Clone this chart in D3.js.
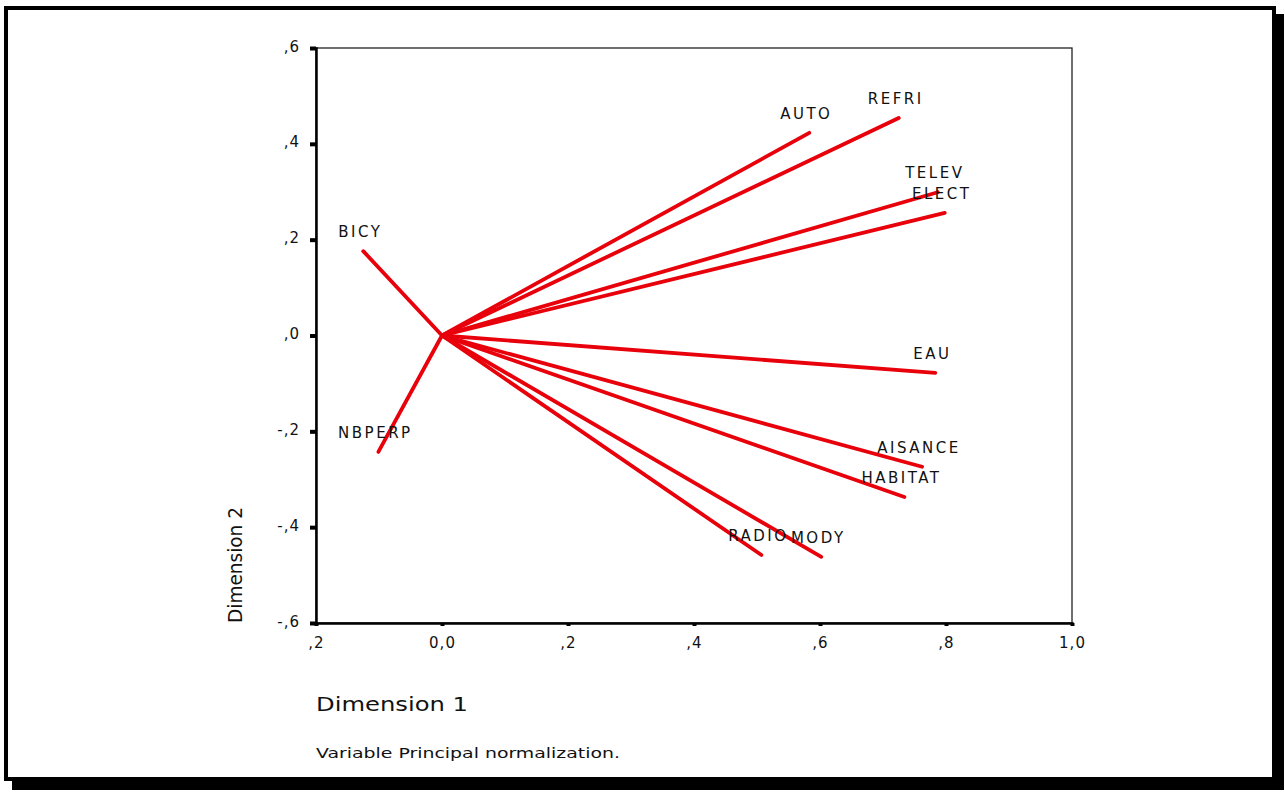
<!DOCTYPE html>
<html><head><meta charset="utf-8">
<script src="https://cdn.jsdelivr.net/npm/d3@7/dist/d3.min.js"></script>
<style>body{margin:0;background:#fff;}svg{display:block;}text{font-family:"DejaVu Sans",Verdana,sans-serif;fill:#111;}</style>
</head><body>
<script>
const variables = ["AUTO","REFRI","TELEV","ELECT","EAU","AISANCE","HABITAT","RADIO","MODY","BICY","NBPERP"];
const dim1 = [0.583, 0.725, 0.787, 0.798, 0.783, 0.762, 0.734, 0.507, 0.602, -0.125, -0.101];
const dim2 = [0.423, 0.454, 0.299, 0.256, -0.078, -0.274, -0.337, -0.458, -0.462, 0.176, -0.243];
const xTickValues = [-0.2, 0, 0.2, 0.4, 0.6, 0.8, 1.0];
const xTickLabels = [",2", "0,0", ",2", ",4", ",6", ",8", "1,0"];
const yTickValues = [0.6, 0.4, 0.2, 0, -0.2, -0.4, -0.6];
const yTickLabels = [",6", ",4", ",2", ",0", "-,2", "-,4", "-,6"];

const W = 1285, H = 792;
const svg = d3.select("body").append("svg").attr("width", W).attr("height", H);

// frame with shadow
svg.append("rect").attr("x", 12).attr("y", 14).attr("width", 1272).attr("height", 776).attr("fill", "#000");
svg.append("rect").attr("x", 6).attr("y", 8).attr("width", 1268).attr("height", 771)
  .attr("fill", "#fff").attr("stroke", "#000").attr("stroke-width", 4);

const x = d3.scaleLinear().domain([-0.2, 1.0]).range([316, 1072]);
const y = d3.scaleLinear().domain([-0.6, 0.6]).range([623, 48]);

// plot box
svg.append("rect").attr("x", x(-0.2)).attr("y", y(0.6))
  .attr("width", x(1.0) - x(-0.2)).attr("height", y(-0.6) - y(0.6))
  .attr("fill", "none").attr("stroke", "#222").attr("stroke-width", 1.3);

// axes
const yAxis = d3.axisLeft(y).tickValues(yTickValues).tickSize(6).tickPadding(10)
  .tickFormat((d, i) => yTickLabels[i]);
const gy = svg.append("g").attr("transform", `translate(${x(-0.2)},0)`).call(yAxis);
gy.select(".domain").attr("stroke", "#000").attr("stroke-width", 2.5);
gy.selectAll(".tick line").attr("stroke", "#000").attr("stroke-width", 4);
gy.selectAll(".tick text").attr("font-size", 15).attr("letter-spacing", 1).attr("dy", "0.2em")
  .attr("font-family", "DejaVu Sans");

const xAxis = d3.axisBottom(x).tickValues(xTickValues).tickSize(3).tickPadding(11)
  .tickFormat((d, i) => xTickLabels[i]);
const gx = svg.append("g").attr("transform", `translate(0,${y(-0.6)})`).call(xAxis);
gx.select(".domain").attr("stroke", "#000").attr("stroke-width", 2.5);
gx.selectAll(".tick line").attr("stroke", "#000").attr("stroke-width", 4);
gx.selectAll(".tick text").attr("font-size", 15).attr("letter-spacing", 1)
  .attr("font-family", "DejaVu Sans");

// vectors
const data = variables.map((v, i) => ({ name: v, d1: dim1[i], d2: dim2[i] }));
svg.append("g").selectAll("line").data(data).join("line")
  .attr("x1", x(0)).attr("y1", y(0))
  .attr("x2", d => x(d.d1)).attr("y2", d => y(d.d2))
  .attr("stroke", "#e8000b").attr("stroke-width", 3.8).attr("stroke-linecap", "round");

svg.append("g").selectAll("text").data(data).join("text")
  .attr("x", d => x(d.d1) - 3).attr("y", d => y(d.d2) - 14)
  .attr("text-anchor", "middle").attr("font-size", 15).attr("letter-spacing", 2.5)
  .text(d => d.name);

// titles
svg.append("text").attr("x", 316).attr("y", 711).attr("font-size", 20)
  .attr("textLength", 152).attr("lengthAdjust", "spacingAndGlyphs").text("Dimension 1");
svg.append("text").attr("transform", `translate(242,565) rotate(-90)`).attr("text-anchor", "middle")
  .attr("font-size", 20).attr("textLength", 116).attr("lengthAdjust", "spacingAndGlyphs")
  .text("Dimension 2");
svg.append("text").attr("x", 316).attr("y", 758).attr("font-size", 14)
  .attr("textLength", 304).attr("lengthAdjust", "spacingAndGlyphs")
  .text("Variable Principal normalization.");
</script>
</body></html>
